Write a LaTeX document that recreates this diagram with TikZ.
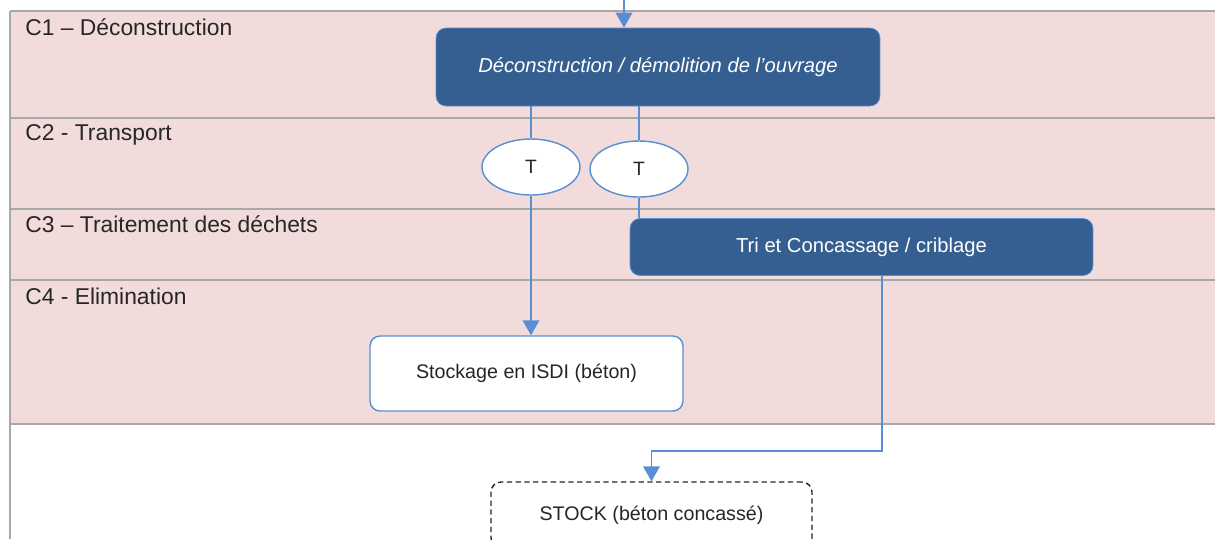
\documentclass[tikz,border=0pt]{standalone}
\usepackage{fontspec}
\setmainfont{Liberation Sans}
\usetikzlibrary{positioning, calc, arrows.meta, shapes.geometric}
\definecolor{lanepink}{RGB}{242,220,219}
\definecolor{lanegray}{RGB}{168,168,168}
\definecolor{boxblue}{RGB}{54,95,145}
\definecolor{flowblue}{RGB}{88,142,212}
\definecolor{inkgray}{RGB}{38,38,38}
\tikzset{lane/.style={draw=lanegray, line width=1pt}}
\tikzset{lanetitle/.style={anchor=north west, inner sep=0pt, text=inkgray, font=\fontsize{13}{15}\selectfont}}
\tikzset{phase/.style={fill=boxblue, draw=flowblue, rounded corners=0.2cm, text=white, font=\fontsize{11.5}{13}\selectfont}}
\tikzset{trans/.style={ellipse, fill=white, draw=flowblue, thick, minimum width=1.96cm, minimum height=1.12cm, inner sep=0pt, text=inkgray, font=\fontsize{11}{13}\selectfont}}
\tikzset{dest/.style={fill=white, draw=flowblue, thick, rounded corners=0.2cm, text=inkgray, font=\fontsize{11.2}{13}\selectfont}}
\tikzset{flow/.style={draw=flowblue, thick}}
\tikzset{flowarrow/.style={flow, -{Triangle[width=9.5pt,length=8.5pt]}}}
\begin{document}
\begin{tikzpicture}[x=0.02cm, y=-0.02cm]
      \useasboundingbox (0,0) rectangle (1215,539);
      \clip (0,0) rectangle (1215,539);
      \fill[lanepink] (10,11) rectangle (1215,424);
      \foreach \y in {11,118,209,280,424}
        \draw[lane] (10,\y) -- (1215,\y);
      \draw[lane] (10,11) -- (10,539);

      \node[lanetitle] (c1) at (25,18) {C1 – Déconstruction};
      \node[lanetitle] (c2) at (25,124) {C2 - Transport};
      \node[lanetitle] (c3) at (25,215) {C3 – Traitement des déchets};
      \node[lanetitle] (c4) at (25,288) {C4 - Elimination};

      \node[phase, minimum width=8.88cm, minimum height=1.56cm, font=\fontsize{11.5}{13}\selectfont\itshape] (d0) at (658,67) {Déconstruction / démolition de l’ouvrage};
      \node[trans] (t1) at (531,167) {T};
      \node[trans] (t2) at (639,169) {T};
      \node[phase, minimum width=9.26cm, minimum height=1.14cm] (tri) at (861.5,247) {Tri et Concassage / criblage};
      \node[dest, minimum width=6.26cm, minimum height=1.5cm] (isdi) at (526.5,373.5) {Stockage en ISDI (béton)};
      \node[dest, draw=inkgray, dash pattern=on 3pt off 2pt, minimum width=6.42cm, minimum height=1.32cm] (stock) at (651.5,515) {STOCK (béton concassé)};

      \coordinate (entree) at (624,0);
      \coordinate (coude) at (882,451);
      \draw[flowarrow] (entree) -- (entree |- d0.north);
      \draw[flow] (d0.south -| t1.north) -- (t1.north);
      \draw[flow] (d0.south -| t2.north) -- (t2.north);
      \draw[flowarrow] (t1.south) -- (t1.south |- isdi.north);
      \draw[flow] (t2.south) -- (t2.south |- tri.north);
      \draw[flowarrow] (tri.south -| coude) -- (coude) -| (stock.north);
    \end{tikzpicture}
\end{document}
